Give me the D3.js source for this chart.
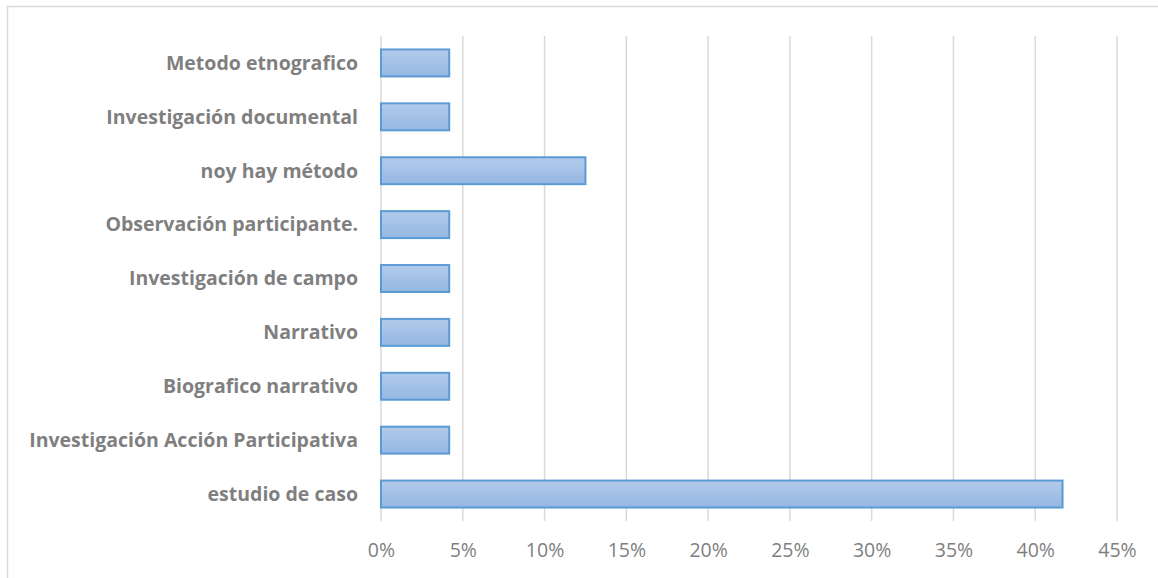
<!DOCTYPE html>
<html>
<head>
<meta charset="utf-8">
<script src="https://cdn.jsdelivr.net/npm/d3@7"></script>
<style>
  body { margin: 0; background: #fff; }
  .cat { font-family: "Open Sans", sans-serif; font-weight: bold; font-size: 19.5px; fill: #7f7f7f; }
  .tick text { font-family: "Open Sans", sans-serif; font-size: 19.5px; fill: #7f7f7f; }
</style>
</head>
<body>
<svg id="chart" width="1158" height="578"></svg>
<script>
// categories, top to bottom
var categories = [
  "Metodo etnografico",
  "Investigación documental",
  "noy hay método",
  "Observación participante.",
  "Investigación de campo",
  "Narrativo",
  "Biografico narrativo",
  "Investigación Acción Participativa",
  "estudio de caso"
];
// share of studies (fraction)
var values = [0.0417, 0.0417, 0.125, 0.0417, 0.0417, 0.0417, 0.0417, 0.0417, 0.4167];
var xTicks = [0, 0.05, 0.10, 0.15, 0.20, 0.25, 0.30, 0.35, 0.40, 0.45];

var svg = d3.select("#chart");
var margin = {top: 36, left: 381, right: 41, bottom: 57};
var width = 1158 - margin.left - margin.right,
    height = 578 - margin.top - margin.bottom;

// outer chart border
svg.append("rect")
  .attr("x", 7.5).attr("y", 6.5)
  .attr("width", 1160).attr("height", 600)
  .attr("fill", "none")
  .attr("stroke", "#d9d9d9")
  .attr("stroke-width", 1.5);

var defs = svg.append("defs");
var grad = defs.append("linearGradient")
  .attr("id", "barGrad").attr("x1", 0).attr("y1", 0).attr("x2", 0).attr("y2", 1);
grad.append("stop").attr("offset", "0%").attr("stop-color", "#b3cbeb");
grad.append("stop").attr("offset", "100%").attr("stop-color", "#94b7e2");

var x = d3.scaleLinear().domain([0, 0.45]).range([0, width]);
var y = d3.scaleBand().domain(categories).range([0, height])
  .paddingInner(0.5).paddingOuter(0.25);

var g = svg.append("g")
  .attr("transform", "translate(" + margin.left + "," + margin.top + ")");

// vertical grid lines
g.selectAll(".grid")
  .data(xTicks)
  .enter().append("line")
    .attr("class", "grid")
    .attr("x1", function(d) { return x(d); })
    .attr("x2", function(d) { return x(d); })
    .attr("y1", 0)
    .attr("y2", height)
    .attr("stroke", "#d9d9d9")
    .attr("stroke-width", 1.5);

// bars
g.selectAll(".bar")
  .data(values)
  .enter().append("rect")
    .attr("class", "bar")
    .attr("x", x(0))
    .attr("y", function(d, i) { return y(categories[i]); })
    .attr("width", function(d) { return x(d) - x(0); })
    .attr("height", y.bandwidth())
    .attr("fill", "url(#barGrad)")
    .attr("stroke", "#5b9bd5")
    .attr("stroke-width", 2);

// category labels
g.selectAll(".cat")
  .data(categories)
  .enter().append("text")
    .attr("class", "cat")
    .attr("x", -23)
    .attr("y", function(d) { return y(d) + y.bandwidth() / 2; })
    .attr("dy", "0.35em")
    .attr("text-anchor", "end")
    .text(function(d) { return d; });

// x axis
var xAxis = g.append("g")
  .attr("transform", "translate(0," + height + ")")
  .call(d3.axisBottom(x).tickValues(xTicks).tickFormat(d3.format(".0%")).tickSize(0).tickPadding(22));
xAxis.select(".domain").remove();
</script>
</body>
</html>
